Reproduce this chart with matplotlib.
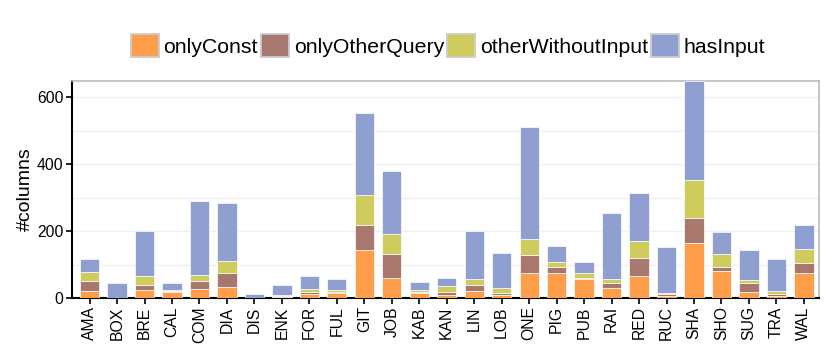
import matplotlib
matplotlib.use("Agg")
import matplotlib.pyplot as plt
from matplotlib.patches import Patch
import numpy as np

plt.rcParams['font.family'] = ['Liberation Sans', 'DejaVu Sans']

categories = ["AMA", "BOX", "BRE", "CAL", "COM", "DIA", "DIS", "ENK", "FOR", "FUL",
              "GIT", "JOB", "KAB", "KAN", "LIN", "LOB", "ONE", "PIG", "PUB", "RAI",
              "RED", "RUC", "SHA", "SHO", "SUG", "TRA", "WAL"]
only_const = [20, 0, 23, 18, 27, 33, 0, 4, 12, 16,
              143, 60, 15, 10, 20, 8, 74, 74, 56, 29,
              66, 7, 165, 81, 19, 7, 76]
only_other_query = [31, 0, 17, 3, 24, 41, 0, 3, 6, 3,
                    76, 73, 3, 9, 20, 8, 54, 19, 5, 17,
                    54, 4, 75, 13, 27, 6, 30]
other_without_input = [26, 0, 27, 4, 19, 37, 1, 3, 8, 6,
                       90, 58, 7, 18, 16, 14, 47, 16, 14, 11,
                       51, 5, 112, 37, 9, 9, 42]
has_input = [40, 45, 132, 19, 219, 172, 12, 28, 41, 31,
             245, 189, 24, 23, 144, 106, 338, 47, 34, 196,
             144, 136, 298, 65, 89, 95, 71]
series_names = ["onlyConst", "onlyOtherQuery", "otherWithoutInput", "hasInput"]
colors = ["#FF9E4A", "#A8786E", "#CDCC5D", "#8F9FCF"]
y_ticks = [0, 200, 400, 600]

fig = plt.figure(figsize=(8.3, 3.56), dpi=100)
ax = fig.add_axes([72/830, 1-298/356, (819-72)/830, (298-80.7)/356])

x = np.arange(len(categories))
bottom = np.zeros(len(categories))
for vals, c in zip([only_const, only_other_query, other_without_input, has_input], colors):
    v = np.array(vals, dtype=float)
    ax.bar(x, v, width=0.7, bottom=bottom, color=c, edgecolor='white', linewidth=0.5, zorder=3)
    bottom += v

ax.set_xlim(-0.64, len(categories) - 1 + 0.55)
ax.set_ylim(0, 650)
ax.set_yticks(y_ticks)
ax.set_yticks([100, 300, 500], minor=True)
ax.yaxis.grid(True, which='both', color='#f0f0f0', linewidth=1, zorder=0)
ax.tick_params(axis='y', which='minor', length=0)
ax.set_xticks(x)
ax.set_xticklabels(categories, rotation=90)
ax.tick_params(axis='both', which='major', direction='out', length=4, width=1.2, color='black',
               labelsize=11.3, pad=2)
ax.set_ylabel("#columns", fontsize=14, labelpad=2)

for s in ['left', 'bottom']:
    ax.spines[s].set_color('black')
    ax.spines[s].set_linewidth(1.5)
for s in ['top', 'right']:
    ax.spines[s].set_color('#bbbbbb')
    ax.spines[s].set_linewidth(1.2)

handles = [Patch(facecolor=c, edgecolor='#cccccc', linewidth=1.3) for c in colors]
fig.legend(handles, series_names, loc='center left', bbox_to_anchor=(131/830, 1-45.5/356),
           ncol=4, frameon=False, fontsize=15.3, handlelength=1.33, handleheight=1.33,
           handletextpad=0.2, columnspacing=0.15, borderaxespad=0, borderpad=0)

fig.savefig("out.png", dpi=100)
